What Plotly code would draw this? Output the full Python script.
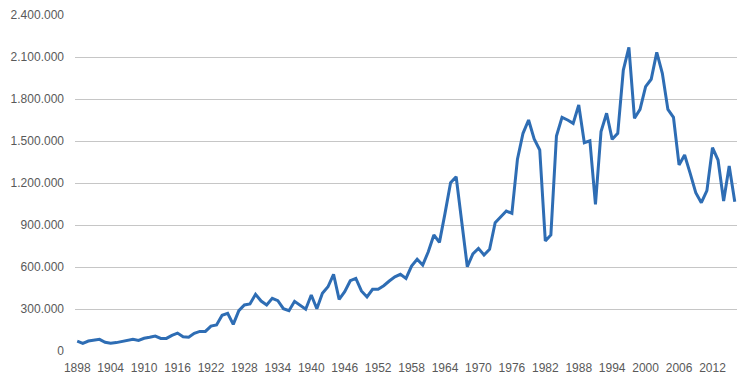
import plotly.graph_objects as go

years = list(range(1898, 2017))
values = [
    70000, 55000, 71000, 78000, 83000, 62000, 55000, 60000, 66000, 74000,   # 1898-1907
    83000, 76000, 91000, 98000, 107000, 90000, 90000, 112000, 128000, 102000,  # 1908-1917
    98000, 126000, 140000, 140000, 178000, 186000, 255000, 269000, 190000, 288000,  # 1918-1927
    329000, 336000, 405000, 357000, 329000, 376000, 359000, 302000, 288000, 355000,  # 1928-1937
    329000, 298000, 400000, 302000, 412000, 459000, 548000, 369000, 424000, 502000,  # 1938-1947
    519000, 429000, 386000, 441000, 441000, 466000, 500000, 530000, 548000, 519000,  # 1948-1957
    607000, 655000, 614000, 709000, 829000, 776000, 983000, 1202000, 1245000, 910000,  # 1958-1967
    602000, 693000, 733000, 686000, 726000, 917000, 955000, 1000000, 983000, 1370000,  # 1968-1977
    1555000, 1650000, 1514000, 1436000, 786000, 829000, 1536000, 1669000, 1650000, 1626000,  # 1978-1987
    1757000, 1488000, 1502000, 1048000, 1567000, 1698000, 1512000, 1555000, 2007000, 2169000,  # 1988-1997
    1662000, 1726000, 1888000, 1941000, 2133000, 1983000, 1726000, 1669000, 1329000, 1400000,  # 1998-2007
    1269000, 1131000, 1059000, 1145000, 1452000, 1364000, 1071000, 1321000, 1066000,  # 2008-2016
]
x_ticks = list(range(1898, 2013, 6))
y_ticks = list(range(0, 2400001, 300000))

fig = go.Figure(
    go.Scatter(
        x=years, y=values, mode="lines",
        line=dict(color="#2E6DB4", width=3),
        hoverinfo="x+y",
    )
)

# page body has an 8px default margin, so the figure is sized to fill the rest
fig.update_layout(
    width=748, height=370,
    margin=dict(l=67, r=19, t=7, b=27, autoexpand=False),
    paper_bgcolor="white", plot_bgcolor="white",
    separators=",.",
    showlegend=False,
    font=dict(family="Liberation Sans, Arial, sans-serif", size=12, color="#595959"),
)
fig.update_xaxes(
    range=[1897.6, 2016.4],
    tickvals=x_ticks, ticktext=[str(v) for v in x_ticks],
    showgrid=False, zeroline=False, showline=False, ticks="",
    ticklabelstandoff=8, automargin=False,
    fixedrange=True,
)
fig.update_yaxes(
    range=[0, 2400000],
    tickvals=y_ticks, tickformat=",d",
    showgrid=True, gridcolor="#C6C6C6", gridwidth=1,
    zeroline=False, showline=False, ticks="",
    ticklabelstandoff=10, automargin=False,
    fixedrange=True,
)

fig.write_html("out.html")
